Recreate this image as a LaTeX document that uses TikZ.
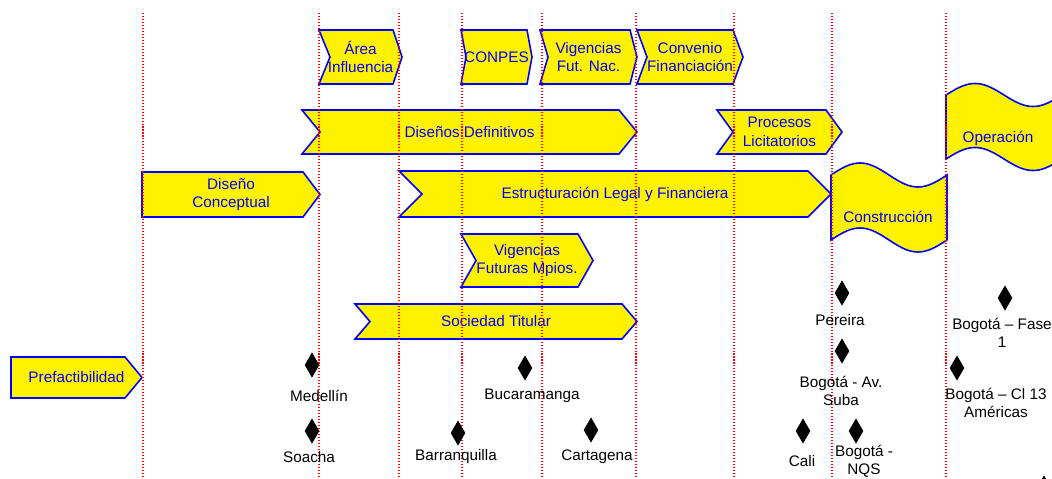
\documentclass[tikz,border=0pt]{standalone}
\usepackage{fontspec}
\setmainfont{Liberation Sans}
\usetikzlibrary{shapes.geometric}

\begin{document}
\begin{tikzpicture}[x=0.02cm, y=-0.02cm,
    etape/.style={fill=yellow, draw=blue, line width=0.9pt, line join=miter},
    texte/.style={text=blue, align=center, inner sep=0pt,
        font=\fontsize{8.7}{10.6}\selectfont},
    jalon/.style={diamond, fill=black, draw=black, inner sep=0pt,
        minimum width=0.28cm, minimum height=0.48cm},
    ville/.style={text=black, align=center, inner sep=0pt,
        font=\fontsize{8.7}{10.2}\selectfont},
    repere/.style={red, line width=0.6pt, dash pattern=on 0.6pt off 1.1pt}]
    \useasboundingbox (0,0) rectangle (1052,479);

    % Limites des traits verticaux
    \pgfmathsetmacro{\haut}{13}
    \pgfmathsetmacro{\bas}{479}

    % Etapes en chevron
    \foreach \nom/\xl/\xn/\xr/\xp/\ya/\yb/\txt in {
        prefa/11/11/125/142/357/398/{Prefactibilidad},
        concept/142/142/303/320/172/217/{Diseño\\Conceptual},
        area/319/330/393/402/30/84/{Área\\Influencia},
        conpes/461/466/527/532/30/84/{CONPES},
        vignac/540/548/630/637/30/84/{Vigencias\\Fut. Nac.},
        convenio/637/647/733/743/30/84/{Convenio\\Financiación},
        definitivos/302/320/619/637/110/154/{Diseños Definitivos},
        procesos/717/733/826/842/110/154/{Procesos\\Licitatorios},
        estructura/399/422/808/831/171/217/{Estructuración Legal y Financiera},
        vigmun/461/476/578/593/234/287/{Vigencias\\Futuras Mpios.},
        sociedad/355/370/622/637/304/339/{Sociedad Titular}} {
        \pgfmathsetmacro{\ym}{(\ya+\yb)/2}
        \draw[etape] (\xl,\ya) -- (\xr,\ya) -- (\xp,\ym) -- (\xr,\yb)
            -- (\xl,\yb) -- (\xn,\ym) -- cycle;
        \node[texte] (\nom) at ({(\xl+\xp)/2},\ym) {\txt};
    }

    % Etapes en bande ondulee
    \draw[etape] plot[domain=0:1, variable=\t, samples=40]
            ({831+116*\t},{175-12*sin(360*\t)})
        -- plot[domain=1:0, variable=\t, samples=40]
            ({831+116*\t},{240-12*sin(360*\t)}) -- cycle;
    \node[texte] (construccion) at (888,217) {Construcción};
    \draw[etape] plot[domain=0:1, variable=\t, samples=40]
            ({946+116*\t},{95-11.5*sin(360*\t)})
        -- plot[domain=1:0, variable=\t, samples=40]
            ({946+116*\t},{159-11.5*sin(360*\t)}) -- cycle;
    \node[texte] (operacion) at (998,138) {Operación};

    % Traits verticaux en pointille
    \foreach \x in {143,319,399,462,542,636,734,832,946} {
        \draw[repere] (\x,\haut) -- (\x,\bas);
    }

    % Jalons des villes
    \node[jalon] (medellin) at (312,365) {};
    \node[ville] (lmedellin) at (319,396) {Medellín};
    \node[jalon] (soacha) at (312,431) {};
    \node[ville] (lsoacha) at (309,457) {Soacha};
    \node[jalon] (bucaramanga) at (525,368) {};
    \node[ville] (lbucaramanga) at (532,396) {Bucaramanga};
    \node[jalon] (barranquilla) at (458,433) {};
    \node[ville] (lbarranquilla) at (456,457) {Barranquilla};
    \node[jalon] (cartagena) at (591,430) {};
    \node[ville] (lcartagena) at (597,457) {Cartagena};
    \node[jalon] (cali) at (803,431) {};
    \node[ville] (lcali) at (802,461) {Cali};
    \node[jalon] (nqs) at (856,431) {};
    \node[ville] (lnqs) at (864,461) {Bogotá -\\NQS};
    \node[jalon] (pereira) at (842,293) {};
    \node[ville] (lpereira) at (840,320) {Pereira};
    \node[jalon] (suba) at (842,351) {};
    \node[ville] (lsuba) at (841,391) {Bogotá - Av.\\Suba};
    \node[jalon] (calle13) at (957,368) {};
    \node[ville] (lcalle13) at (996,403) {Bogotá – Cl 13\\Américas};
    \node[jalon] (fase1) at (1005,298) {};
    \node[ville] (lfase1) at (1002,333) {Bogotá – Fase\\1};
    % jalon coupe par le bord
    \node[jalon] (bord) at (1044,488) {};
\end{tikzpicture}
\end{document}
